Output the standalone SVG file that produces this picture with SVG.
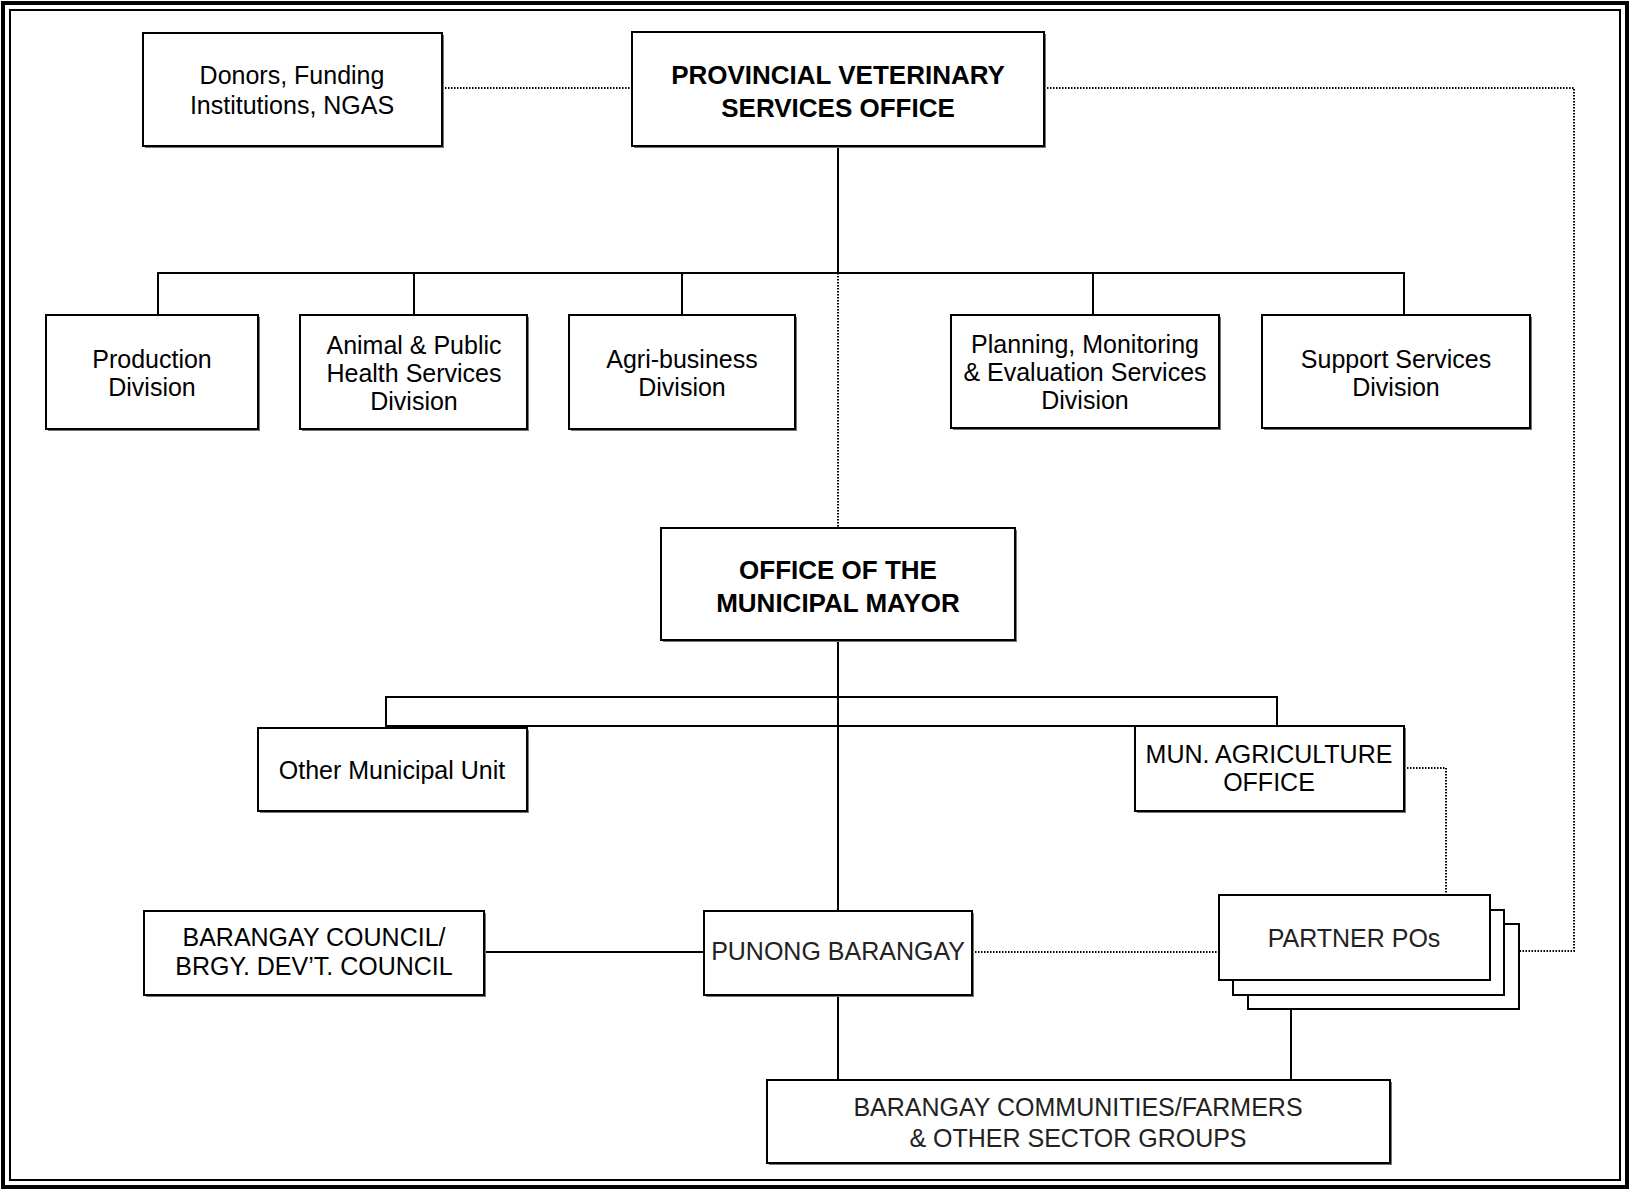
<svg xmlns="http://www.w3.org/2000/svg" width="1630" height="1190" viewBox="0 0 1630 1190">
<style>
.box{fill:#fff;stroke:#000;stroke-width:2}
.sh{fill:#777;stroke:none}
.t{font-family:"Liberation Sans",Arial,sans-serif;font-size:25px;fill:#000;text-anchor:middle}
.b{font-weight:bold;font-size:26px}
.l{fill:#222}
.solid{fill:none;stroke:#000;stroke-width:2}
.dot{fill:none;stroke:#000;stroke-width:2;stroke-dasharray:1.5 1.5}
</style>
<rect x="3" y="3" width="1624" height="1184" fill="#fff" stroke="#000" stroke-width="4"/>
<rect x="10" y="10" width="1610" height="1170" fill="none" stroke="#000" stroke-width="2"/>
<g id="connectors">
<line class="dot" x1="442" y1="88" x2="632" y2="88"/>
<polyline class="dot" points="1044,88 1574,88 1574,951 1519,951"/>
<line class="solid" x1="838" y1="146" x2="838" y2="273"/>
<polyline class="solid" points="158,315 158,273 1404,273 1404,315"/>
<line class="solid" x1="414" y1="273" x2="414" y2="315"/>
<line class="solid" x1="682" y1="273" x2="682" y2="315"/>
<line class="solid" x1="1093" y1="273" x2="1093" y2="315"/>
<line class="dot" x1="838" y1="273" x2="838" y2="528"/>
<line class="solid" x1="838" y1="640" x2="838" y2="911"/>
<rect class="solid" x="386" y="697" width="891" height="29"/>
<polyline class="dot" points="1404,768 1446,768 1446,895"/>
<line class="solid" x1="484" y1="952" x2="704" y2="952"/>
<line class="dot" x1="972" y1="952" x2="1219" y2="952"/>
<line class="solid" x1="838" y1="995" x2="838" y2="1080"/>
<line class="solid" x1="1291" y1="1009" x2="1291" y2="1080"/>
</g>
<g id="donors">
<rect class="sh" x="145" y="35" width="299" height="113"/>
<rect class="box" x="143" y="33" width="299" height="113"/>
<text class="t" font-size="27" x="292" y="84">Donors, Funding</text>
<text class="t" font-size="26.5" x="292" y="114">Institutions, NGAS</text>
</g>
<g id="pvso">
<rect class="sh" x="634" y="34" width="412" height="114"/>
<rect class="box" x="632" y="32" width="412" height="114"/>
<text class="t b" x="838" y="84">PROVINCIAL VETERINARY</text>
<text class="t b" x="838" y="117">SERVICES OFFICE</text>
</g>
<g id="production">
<rect class="sh" x="48" y="317" width="212" height="114"/>
<rect class="box" x="46" y="315" width="212" height="114"/>
<text class="t" x="152" y="368">Production</text>
<text class="t" x="152" y="396">Division</text>
</g>
<g id="aphs">
<rect class="sh" x="302" y="317" width="227" height="114"/>
<rect class="box" x="300" y="315" width="227" height="114"/>
<text class="t" x="414" y="354">Animal &amp; Public</text>
<text class="t" x="414" y="382">Health Services</text>
<text class="t" x="414" y="410">Division</text>
</g>
<g id="agri">
<rect class="sh" x="571" y="317" width="226" height="114"/>
<rect class="box" x="569" y="315" width="226" height="114"/>
<text class="t" x="682" y="368">Agri-business</text>
<text class="t" x="682" y="396">Division</text>
</g>
<g id="pmes">
<rect class="sh" x="953" y="317" width="268" height="113"/>
<rect class="box" x="951" y="315" width="268" height="113"/>
<text class="t" x="1085" y="353">Planning, Monitoring</text>
<text class="t" x="1085" y="381">&amp; Evaluation Services</text>
<text class="t" x="1085" y="409">Division</text>
</g>
<g id="support">
<rect class="sh" x="1264" y="317" width="268" height="113"/>
<rect class="box" x="1262" y="315" width="268" height="113"/>
<text class="t" x="1396" y="368">Support Services</text>
<text class="t" x="1396" y="396">Division</text>
</g>
<g id="mayor">
<rect class="sh" x="663" y="530" width="354" height="112"/>
<rect class="box" x="661" y="528" width="354" height="112"/>
<text class="t b" x="838" y="579">OFFICE OF THE</text>
<text class="t b" x="838" y="612">MUNICIPAL MAYOR</text>
</g>
<g id="other-unit">
<rect class="sh" x="260" y="730" width="269" height="83"/>
<rect class="box" x="258" y="728" width="269" height="83"/>
<text class="t" font-size="26" x="392" y="779">Other Municipal Unit</text>
</g>
<g id="mao">
<rect class="sh" x="1137" y="728" width="269" height="85"/>
<rect class="box" x="1135" y="726" width="269" height="85"/>
<text class="t" font-size="22" x="1269" y="763">MUN. AGRICULTURE</text>
<text class="t" font-size="22" x="1269" y="791">OFFICE</text>
</g>
<g id="partner-pos">
<rect class="box" x="1248" y="924" width="271" height="85"/>
<rect class="box" x="1233" y="910" width="271" height="85"/>
<rect class="box" x="1219" y="895" width="271" height="85"/>
<text class="t l" font-size="20.5" x="1354" y="947">PARTNER POs</text>
</g>
<g id="brgy-council">
<rect class="sh" x="146" y="913" width="340" height="84"/>
<rect class="box" x="144" y="911" width="340" height="84"/>
<text class="t" font-size="24" x="314" y="946">BARANGAY COUNCIL/</text>
<text class="t" font-size="23" x="314" y="975">BRGY. DEV’T. COUNCIL</text>
</g>
<g id="punong">
<rect class="sh" x="706" y="913" width="268" height="84"/>
<rect class="box" x="704" y="911" width="268" height="84"/>
<text class="t l" font-size="24" x="838" y="960">PUNONG BARANGAY</text>
</g>
<g id="communities">
<rect class="sh" x="769" y="1082" width="623" height="83"/>
<rect class="box" x="767" y="1080" width="623" height="83"/>
<text class="t l" x="1078" y="1116">BARANGAY COMMUNITIES/FARMERS</text>
<text class="t l" x="1078" y="1147">&amp; OTHER SECTOR GROUPS</text>
</g>
</svg>
